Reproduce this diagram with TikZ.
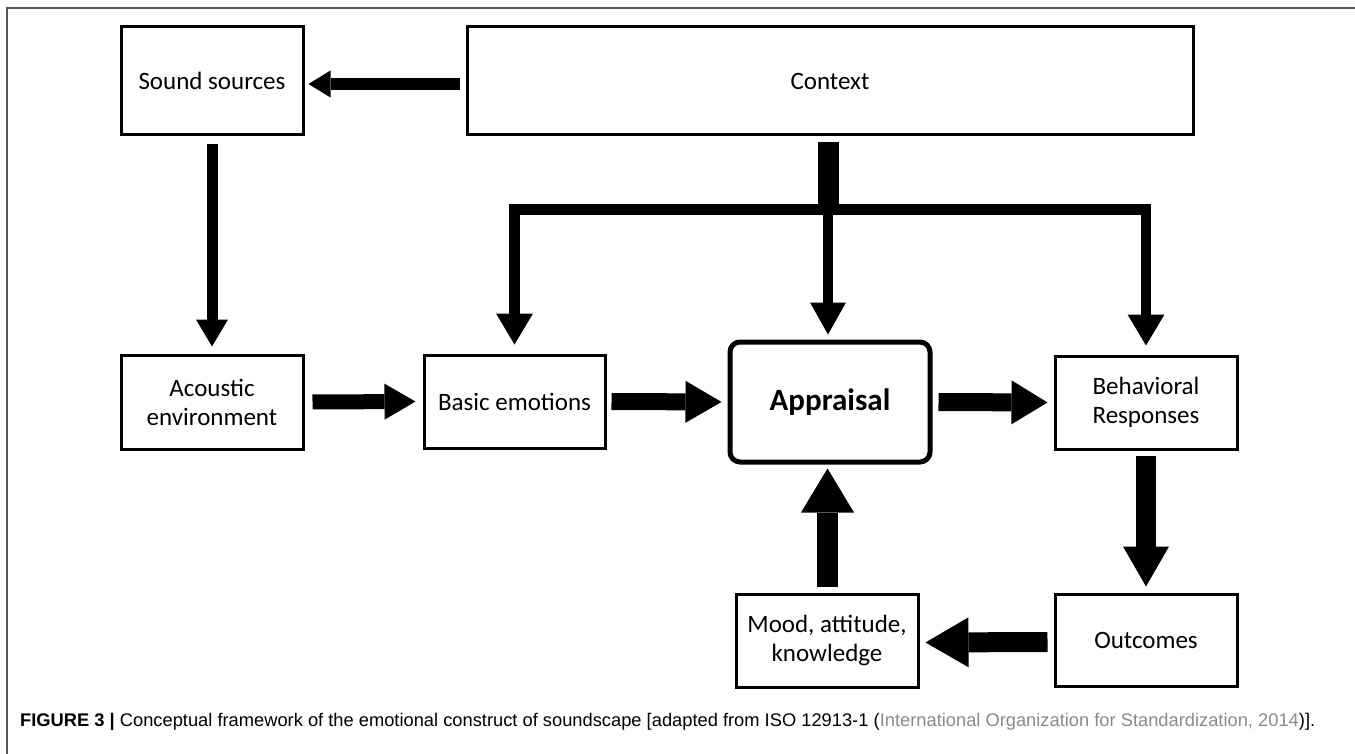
\documentclass[tikz,border=0pt]{standalone}
\usepackage{fontspec}
\usepackage{graphicx}
\setmainfont{Carlito}
\newfontfamily\capfont{Liberation Sans}
\usetikzlibrary{arrows.meta}
\definecolor{framegray}{HTML}{555555}
\definecolor{citegray}{HTML}{8A8A8A}
\tikzset{
  box/.style={draw=black, line width=3pt, align=center, inner sep=0pt,
    font=\fontsize{25}{29}\selectfont},
  blk/.style n args={3}{line width=#1, line join=miter,
    -{Triangle[length=#2,width=#3,line width=0pt]}},
  dblk/.style n args={3}{line width=#1, line join=miter,
    {Triangle[length=#2,width=#3,line width=0pt]}-{Triangle[length=#2,width=#3,line width=0pt]}},
}
\begin{document}
\begin{tikzpicture}[x=1pt,y=-1pt]
\useasboundingbox (0,0) rectangle (1355,754);
% frame
\draw[framegray, line width=1.2pt] (7,754) -- (7,8) -- (1355,8);

% nodes
\node[box, minimum width=182pt, minimum height=108pt] (snd) at (212,81) {Sound sources};
\node[box, minimum width=726pt, minimum height=108pt] (ctx) at (830,81) {Context};
\node[box, minimum width=182pt, minimum height=94pt] (ac) at (212,402) {Acoustic\\environment};
\node[box, minimum width=181pt, minimum height=93pt] (be) at (514.5,401.5) {Basic emotions};
\node[box, line width=5pt, rounded corners=10pt, minimum width=200pt, minimum height=120pt,
      font=\fontsize{31}{36}\selectfont\bfseries] (ap) at (830,402) {Appraisal};
\node[box, minimum width=182pt, minimum height=93pt] (br) at (1146,402.5) {Behavioral\\Responses};
\node[box, minimum width=182pt, minimum height=92pt] (oc) at (1146,640) {Outcomes};
\node[box, minimum width=182pt, minimum height=93pt] (md) at (827,640.5) {Mood, attitude,\\knowledge};

% connectors
\draw[blk={12pt}{22pt}{27pt}, shorten <=6pt, shorten >=4pt]
  ([yshift=-3pt]ctx.west) -- ([yshift=-3pt]snd.east);
\draw[blk={11pt}{27pt}{32pt}, shorten <=8pt, shorten >=7pt] (snd.south) -- (ac.north);
\draw[blk={15pt}{31pt}{36pt}, shorten <=8pt, shorten >=7pt] (ac.east) -- (be.west);
\draw[blk={17pt}{36pt}{42pt}, shorten <=5pt, shorten >=6pt] (be.east) -- (ap.west);
\draw[blk={18pt}{36pt}{44pt}, shorten <=6pt, shorten >=6pt] (ap.east) -- (br.west);
\draw[blk={20pt}{40pt}{46pt}, shorten <=5pt, shorten >=6pt] (br.south) -- (oc.north);
\draw[blk={20pt}{43pt}{50pt}, shorten <=6pt, shorten >=6pt]
  ([yshift=-2pt]oc.west) -- ([yshift=-2pt]md.east);
\draw[blk={21pt}{44pt}{53pt}, shorten <=6pt, shorten >=4pt]
  ([xshift=0.5pt]md.north) -- ([xshift=0.5pt]md.north |- ap.south);

% context distribution tree
\coordinate (split) at (828,209.5);
\draw[line width=21pt, shorten <=6pt] (ctx.south -| split) -- ([yshift=-5.5pt]split);
\draw[dblk={10.5pt}{31pt}{37pt}, shorten <=9pt, shorten >=9pt]
  (be.north) -- (be.north |- split) -- (br.north |- split) -- (br.north);
\draw[blk={10pt}{32pt}{36pt}, shorten >=5pt] (split) -- (split |- ap.north);

% caption
\node[anchor=west, inner sep=0pt] (cap) at (20,722) {\resizebox{1295pt}{!}{\capfont
  \textbf{FIGURE 3 |} Conceptual framework of the emotional construct of soundscape [adapted from ISO 12913-1 (\textcolor{citegray}{International Organization for Standardization, 2014})].}};
\end{tikzpicture}
\end{document}
